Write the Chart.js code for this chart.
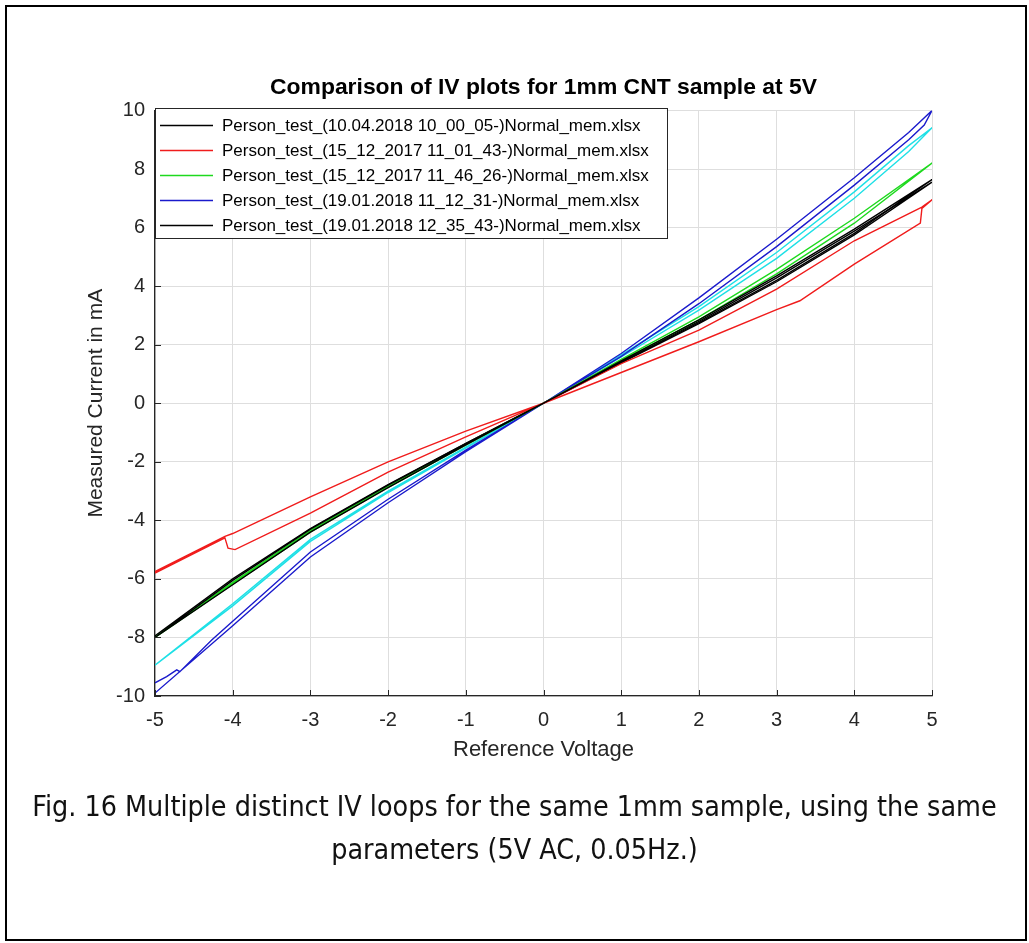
<!DOCTYPE html>
<html>
<head>
<meta charset="utf-8">
<script src="https://cdn.jsdelivr.net/npm/chart.js@4.4.0/dist/chart.umd.min.js"></script>
<style>
  html, body { margin: 0; padding: 0; background: #fff; }
  #wrap { position: absolute; left: 0; top: 0; width: 1029px; height: 943px; }
  #frame { position: absolute; left: 5px; top: 5px; width: 1022px; height: 936px; border: 2px solid #000; box-sizing: border-box; pointer-events: none; }
  #caption { position: absolute; left: 0; top: 785px; width: 1029px; text-align: center; white-space: nowrap;
    font-family: "Liberation Sans Narrow", "DejaVu Sans Condensed", sans-serif; font-size: 28.4px; line-height: 43px; color: #111; }
</style>
</head>
<body>
<div id="wrap">
  <canvas id="iv-chart" width="1029" height="943"></canvas>
</div>
<div id="frame"></div>
<div id="caption">Fig. 16 Multiple distinct IV loops for the same 1mm sample, using the same<br>parameters (5V AC, 0.05Hz.)</div>
<script>
// each loop: forward sweep -5 -> 5, then back 5 -> -5
const black1V = [-5, -4, -3, -2, -1, 0, 1, 2, 3, 4, 5, 4, 3, 2, 1, 0, -1, -2, -3, -4, -5];
const black1I = [-8.0, -6.05, -4.3, -2.8, -1.38, 0, 1.4, 2.75, 4.2, 5.8, 7.64, 5.95, 4.35, 2.85, 1.45, 0, -1.42, -2.88, -4.4, -6.2, -8.0];

const redV = [-5, -4.1, -4, -3, -2, -1, 0, 1, 2, 3, 3.3, 4, 4.85, 4.87, 5, 4.87, 4, 3, 2, 1, 0, -1, -2, -3, -3.97, -4.06, -4.1, -5];
const redI = [-5.75, -4.55, -4.45, -3.2, -2.0, -0.95, 0, 1.05, 2.1, 3.2, 3.5, 4.75, 6.15, 6.65, 6.95, 6.7, 5.55, 3.9, 2.5, 1.35, 0, -1.15, -2.35, -3.75, -5.0, -4.95, -4.6, -5.8];

const greenV = [-5, -4, -3, -2, -1, 0, 1, 2, 3, 4, 5, 4, 3, 2, 1, 0, -1, -2, -3, -4, -5];
const greenI = [-8.0, -6.12, -4.35, -2.84, -1.4, 0, 1.45, 2.85, 4.42, 6.15, 8.2, 6.32, 4.57, 2.95, 1.5, 0, -1.43, -2.87, -4.4, -6.18, -8.0];

const blueV = [-5, -4.85, -4.72, -4.68, -4.27, -4, -3, -2, -1, 0, 1, 2, 3, 4, 4.7, 4.9, 5, 4.7, 4, 3, 2, 1, 0, -1, -2, -3, -4, -5];
const blueI = [-9.55, -9.34, -9.11, -9.17, -8.09, -7.45, -5.08, -3.28, -1.6, 0, 1.6, 3.4, 5.35, 7.45, 9.0, 9.5, 10.0, 9.25, 7.7, 5.6, 3.6, 1.7, 0, -1.65, -3.4, -5.25, -7.6, -9.9];

const black2V = [-5, -4, -3, -2, -1, 0, 1, 2, 3, 4, 5, 4, 3, 2, 1, 0, -1, -2, -3, -4, -5];
const black2I = [-7.95, -6.0, -4.28, -2.78, -1.37, 0, 1.38, 2.72, 4.15, 5.75, 7.55, 5.88, 4.28, 2.8, 1.42, 0, -1.4, -2.85, -4.36, -6.15, -7.95];

const cyanV = [-5, -4, -3, -2, -1, 0, 1, 2, 3, 4, 4.7, 5, 4.7, 4, 3, 2, 1, 0, -1, -2, -3, -4, -5];
const cyanI = [-8.95, -6.85, -4.65, -3.0, -1.5, 0, 1.58, 3.18, 4.95, 7.0, 8.6, 9.41, 8.8, 7.22, 5.15, 3.3, 1.65, 0, -1.53, -3.05, -4.72, -6.92, -8.95];

const seriesLabels = [
  "Person_test_(10.04.2018 10_00_05-)Normal_mem.xlsx",
  "Person_test_(15_12_2017 11_01_43-)Normal_mem.xlsx",
  "Person_test_(15_12_2017 11_46_26-)Normal_mem.xlsx",
  "Person_test_(19.01.2018 11_12_31-)Normal_mem.xlsx",
  "Person_test_(19.01.2018 12_35_43-)Normal_mem.xlsx",
  "",
];

const xTicks = [-5, -4, -3, -2, -1, 0, 1, 2, 3, 4, 5];
const yTicks = [-10, -8, -6, -4, -2, 0, 2, 4, 6, 8, 10];

function toPoints(vs, is) {
  return vs.map((v, i) => ({ x: v, y: is[i] }));
}

function loop(label, vs, is, color, inLegend) {
  return {
    label: label,
    data: toPoints(vs, is),
    borderColor: color,
    backgroundColor: color,
    borderWidth: 1.4,
    showLine: true,
    pointRadius: 0,
    tension: 0,
    inLegend: inLegend,
  };
}

const datasets = [
  loop(seriesLabels[0], black1V, black1I, "#000000", true),
  loop(seriesLabels[1], redV, redI, "#f01c1c", true),
  loop(seriesLabels[2], greenV, greenI, "#1ed91e", true),
  loop(seriesLabels[3], blueV, blueI, "#1a1acc", true),
  loop(seriesLabels[4], black2V, black2I, "#000000", true),
  loop(seriesLabels[5], cyanV, cyanI, "#1ee0e6", false),
];

const axisColor = "#262626";
const labelFont = "Liberation Sans, Arial, sans-serif";

// matlab style ticks pointing into the plot
const innerTicks = {
  id: "innerTicks",
  afterDraw(chart) {
    const { ctx, chartArea, scales } = chart;
    ctx.save();
    ctx.strokeStyle = axisColor;
    ctx.lineWidth = 1;
    ctx.beginPath();
    xTicks.forEach((t) => {
      const px = Math.round(scales.x.getPixelForValue(t)) + 0.5;
      ctx.moveTo(px, chartArea.bottom);
      ctx.lineTo(px, chartArea.bottom - 6);
    });
    yTicks.forEach((t) => {
      const py = Math.round(scales.y.getPixelForValue(t)) + 0.5;
      ctx.moveTo(chartArea.left, py);
      ctx.lineTo(chartArea.left + 6, py);
    });
    ctx.stroke();
    ctx.restore();
  },
};

// legend box in the top left corner of the axes
const boxLegend = {
  id: "boxLegend",
  afterDraw(chart) {
    const { ctx, chartArea } = chart;
    const items = chart.data.datasets.filter((d) => d.inLegend);
    ctx.save();
    ctx.font = "17px " + labelFont;
    let maxW = 0;
    items.forEach((d) => { maxW = Math.max(maxW, ctx.measureText(d.label).width); });
    const left = chartArea.left;
    const top = chartArea.top - 2;
    const w = 67 + maxW + 18;
    const h = 130;
    ctx.fillStyle = "#fff";
    ctx.fillRect(left, top, w, h);
    ctx.strokeStyle = axisColor;
    ctx.lineWidth = 1;
    ctx.strokeRect(Math.round(left) + 0.5, Math.round(top) + 0.5, Math.round(w), h);
    ctx.textBaseline = "middle";
    items.forEach((d, i) => {
      const y = top + 17 + i * 25;
      ctx.strokeStyle = d.borderColor;
      ctx.lineWidth = 1.4;
      ctx.beginPath();
      ctx.moveTo(left + 5, y);
      ctx.lineTo(left + 58, y);
      ctx.stroke();
      ctx.fillStyle = "#000";
      ctx.fillText(d.label, left + 67, y + 1);
    });
    ctx.restore();
  },
};

const ctx = document.getElementById("iv-chart").getContext("2d");
new Chart(ctx, {
  type: "scatter",
  data: { datasets: datasets },
  options: {
    responsive: false,
    animation: false,
    layout: { padding: { left: 60, right: 97, top: 74, bottom: 167 } },
    plugins: {
      legend: { display: false },
      tooltip: { enabled: false },
      title: {
        display: true,
        fullSize: false,
        text: "Comparison of IV plots for 1mm CNT sample at 5V",
        color: "#000",
        font: { family: labelFont, size: 22.9, weight: "bold" },
        padding: { top: 0, bottom: 9 },
      },
    },
    scales: {
      x: {
        type: "linear",
        min: -5,
        max: 5,
        afterBuildTicks: (s) => { s.ticks = xTicks.map((v) => ({ value: v })); },
        afterFit: (s) => { s.height = 80; },
        ticks: { color: axisColor, padding: 12, font: { family: labelFont, size: 20 } },
        grid: { color: "#dedede", drawTicks: false },
        border: { color: axisColor, width: 1.3 },
        title: {
          display: true,
          text: "Reference Voltage",
          color: axisColor,
          font: { family: labelFont, size: 22 },
          padding: { top: 0, bottom: 13 },
        },
      },
      y: {
        type: "linear",
        min: -10,
        max: 10,
        afterBuildTicks: (s) => { s.ticks = yTicks.map((v) => ({ value: v })); },
        afterFit: (s) => { s.width = 95; },
        ticks: { color: axisColor, padding: 10, font: { family: labelFont, size: 20 } },
        grid: { color: "#dedede", drawTicks: false },
        border: { color: axisColor, width: 1.3 },
        title: {
          display: true,
          text: "Measured Current in mA",
          color: axisColor,
          font: { family: labelFont, size: 21 },
          padding: { top: 24, bottom: 0 },
        },
      },
    },
  },
  plugins: [innerTicks, boxLegend],
});
</script>
</body>
</html>
